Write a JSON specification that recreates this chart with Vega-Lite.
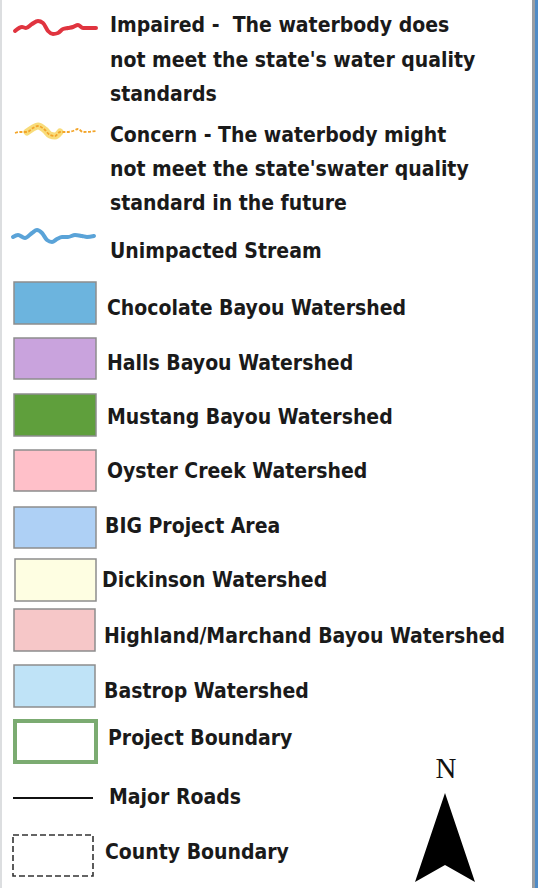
{
  "$schema": "https://vega.github.io/schema/vega-lite/v6.json",
  "width": 538,
  "height": 888,
  "padding": 0,
  "autosize": {"type": "none"},
  "background": "#ffffff",
  "config": {"view": {"stroke": null}},
  "datasets": {
    "borders": [
      {"name": "left", "x": 1, "y0": 0, "y1": 888},
      {"name": "rightgrey", "x": 533.5, "y0": 0, "y1": 888},
      {"name": "rightblue", "x": 536.5, "y0": 0, "y1": 888}
    ],
    "waves": [
      {"series": "Impaired", "x": 15, "y": 31}, {"series": "Impaired", "x": 22, "y": 27}, {"series": "Impaired", "x": 26, "y": 28},
      {"series": "Impaired", "x": 32, "y": 24}, {"series": "Impaired", "x": 38, "y": 21}, {"series": "Impaired", "x": 43, "y": 23},
      {"series": "Impaired", "x": 48, "y": 31}, {"series": "Impaired", "x": 53, "y": 34}, {"series": "Impaired", "x": 58, "y": 33},
      {"series": "Impaired", "x": 63, "y": 29}, {"series": "Impaired", "x": 68, "y": 28}, {"series": "Impaired", "x": 73, "y": 27},
      {"series": "Impaired", "x": 78, "y": 25}, {"series": "Impaired", "x": 83, "y": 28}, {"series": "Impaired", "x": 88, "y": 28},
      {"series": "Impaired", "x": 96, "y": 28},
      {"series": "Concern", "x": 15, "y": 133}, {"series": "Concern", "x": 20, "y": 132}, {"series": "Concern", "x": 27, "y": 132},
      {"series": "Concern", "x": 33, "y": 128}, {"series": "Concern", "x": 38, "y": 126}, {"series": "Concern", "x": 45, "y": 130},
      {"series": "Concern", "x": 50, "y": 135}, {"series": "Concern", "x": 55, "y": 136}, {"series": "Concern", "x": 60, "y": 132},
      {"series": "Concern", "x": 67, "y": 132}, {"series": "Concern", "x": 73, "y": 131}, {"series": "Concern", "x": 78, "y": 129},
      {"series": "Concern", "x": 83, "y": 132}, {"series": "Concern", "x": 96, "y": 131},
      {"series": "ConcernThick", "x": 27, "y": 132}, {"series": "ConcernThick", "x": 33, "y": 128}, {"series": "ConcernThick", "x": 38, "y": 126},
      {"series": "ConcernThick", "x": 45, "y": 130}, {"series": "ConcernThick", "x": 50, "y": 135}, {"series": "ConcernThick", "x": 55, "y": 136},
      {"series": "ConcernThick", "x": 60, "y": 132},
      {"series": "Unimpacted", "x": 13, "y": 237}, {"series": "Unimpacted", "x": 18, "y": 235}, {"series": "Unimpacted", "x": 25, "y": 238},
      {"series": "Unimpacted", "x": 32, "y": 233}, {"series": "Unimpacted", "x": 37, "y": 230}, {"series": "Unimpacted", "x": 42, "y": 233},
      {"series": "Unimpacted", "x": 47, "y": 240}, {"series": "Unimpacted", "x": 52, "y": 242}, {"series": "Unimpacted", "x": 57, "y": 239},
      {"series": "Unimpacted", "x": 62, "y": 237}, {"series": "Unimpacted", "x": 68, "y": 237}, {"series": "Unimpacted", "x": 75, "y": 235},
      {"series": "Unimpacted", "x": 82, "y": 236}, {"series": "Unimpacted", "x": 87, "y": 237}, {"series": "Unimpacted", "x": 94, "y": 236}
    ],
    "swatches": [
      {"label": "Chocolate Bayou Watershed", "x0": 14, "x1": 96, "y0": 282, "y1": 324},
      {"label": "Halls Bayou Watershed", "x0": 14, "x1": 96, "y0": 338, "y1": 379},
      {"label": "Mustang Bayou Watershed", "x0": 14, "x1": 96, "y0": 394, "y1": 436},
      {"label": "Oyster Creek Watershed", "x0": 14, "x1": 96, "y0": 450, "y1": 491},
      {"label": "BIG Project Area", "x0": 14, "x1": 96, "y0": 507, "y1": 548},
      {"label": "Dickinson Watershed", "x0": 15, "x1": 96, "y0": 559, "y1": 601},
      {"label": "Highland/Marchand Bayou Watershed", "x0": 14, "x1": 95, "y0": 609, "y1": 651},
      {"label": "Bastrop Watershed", "x0": 14, "x1": 95, "y0": 665, "y1": 707}
    ],
    "boxes": [
      {"label": "Project Boundary", "x0": 15, "x1": 96, "y0": 721, "y1": 762},
      {"label": "County Boundary", "x0": 13, "x1": 93, "y0": 835, "y1": 876}
    ],
    "roads": [{"label": "Major Roads", "x0": 13, "x1": 93, "y": 798}],
    "labels": [
      {"text": "Impaired - \u00a0The waterbody does", "x": 110, "y": 26},
      {"text": "not meet the state's water quality", "x": 110, "y": 61},
      {"text": "standards", "x": 110, "y": 95},
      {"text": "Concern - The waterbody might", "x": 110, "y": 136},
      {"text": "not meet the state'swater quality", "x": 110, "y": 170},
      {"text": "standard in the future", "x": 110, "y": 204},
      {"text": "Unimpacted Stream", "x": 110, "y": 252},
      {"text": "Chocolate Bayou Watershed", "x": 107, "y": 309},
      {"text": "Halls Bayou Watershed", "x": 107, "y": 364},
      {"text": "Mustang Bayou Watershed", "x": 107, "y": 418},
      {"text": "Oyster Creek Watershed", "x": 107, "y": 472},
      {"text": "BIG Project Area", "x": 105, "y": 527},
      {"text": "Dickinson Watershed", "x": 102, "y": 581},
      {"text": "Highland/Marchand Bayou Watershed", "x": 104, "y": 637},
      {"text": "Bastrop Watershed", "x": 104, "y": 692},
      {"text": "Project Boundary", "x": 108, "y": 739},
      {"text": "Major Roads", "x": 109, "y": 798},
      {"text": "County Boundary", "x": 105, "y": 853}
    ],
    "north": [{"text": "N", "x": 446, "y": 769}],
    "arrow": [{"x": 445, "y": 837.5}]
  },
  "encoding": {
    "x": {"type": "quantitative", "scale": {"domain": [0, 538], "nice": false, "zero": false}, "axis": null},
    "y": {"type": "quantitative", "scale": {"domain": [888, 0], "nice": false, "zero": false}, "axis": null}
  },
  "layer": [
    {
      "data": {"name": "borders"},
      "transform": [{"filter": "datum.name === 'left'"}],
      "mark": {"type": "rule", "strokeWidth": 2, "stroke": "#dcdee0"},
      "encoding": {"x": {"field": "x", "type": "quantitative"}, "y": {"field": "y0", "type": "quantitative"}, "y2": {"field": "y1"}}
    },
    {
      "data": {"name": "borders"},
      "transform": [{"filter": "datum.name === 'rightgrey'"}],
      "mark": {"type": "rule", "strokeWidth": 3, "stroke": "#9a9ea3"},
      "encoding": {"x": {"field": "x", "type": "quantitative"}, "y": {"field": "y0", "type": "quantitative"}, "y2": {"field": "y1"}}
    },
    {
      "data": {"name": "borders"},
      "transform": [{"filter": "datum.name === 'rightblue'"}],
      "mark": {"type": "rule", "strokeWidth": 3, "stroke": "#4f8bc6"},
      "encoding": {"x": {"field": "x", "type": "quantitative"}, "y": {"field": "y0", "type": "quantitative"}, "y2": {"field": "y1"}}
    },
    {
      "data": {"name": "waves"},
      "transform": [{"filter": "datum.series === 'Impaired'"}],
      "mark": {"type": "line", "interpolate": "monotone", "strokeWidth": 4, "strokeCap": "round", "strokeJoin": "round", "stroke": "#e0343f"},
      "encoding": {"x": {"field": "x", "type": "quantitative"}, "y": {"field": "y", "type": "quantitative"}, "order": {"field": "x", "type": "quantitative"}}
    },
    {
      "data": {"name": "waves"},
      "transform": [{"filter": "datum.series === 'Unimpacted'"}],
      "mark": {"type": "line", "interpolate": "monotone", "strokeWidth": 4, "strokeCap": "round", "strokeJoin": "round", "stroke": "#5aa3d8"},
      "encoding": {"x": {"field": "x", "type": "quantitative"}, "y": {"field": "y", "type": "quantitative"}, "order": {"field": "x", "type": "quantitative"}}
    },
    {
      "data": {"name": "waves"},
      "transform": [{"filter": "datum.series === 'ConcernThick'"}],
      "mark": {"type": "line", "interpolate": "monotone", "strokeWidth": 7, "strokeCap": "round", "opacity": 0.8, "stroke": "#f6d35a"},
      "encoding": {"x": {"field": "x", "type": "quantitative"}, "y": {"field": "y", "type": "quantitative"}, "order": {"field": "x", "type": "quantitative"}}
    },
    {
      "data": {"name": "waves"},
      "transform": [{"filter": "datum.series === 'Concern'"}],
      "mark": {"type": "line", "interpolate": "monotone", "strokeWidth": 1.8, "strokeDash": [3, 1.5], "stroke": "#f3a52a"},
      "encoding": {"x": {"field": "x", "type": "quantitative"}, "y": {"field": "y", "type": "quantitative"}, "order": {"field": "x", "type": "quantitative"}}
    },
    {
      "data": {"name": "swatches"},
      "mark": {"type": "rect", "stroke": "#8d8d8d", "strokeWidth": 1.5},
      "encoding": {
        "x": {"field": "x0", "type": "quantitative"},
        "x2": {"field": "x1"},
        "y": {"field": "y0", "type": "quantitative"},
        "y2": {"field": "y1"},
        "fill": {"field": "label", "type": "nominal", "legend": null,
          "scale": {"domain": ["Chocolate Bayou Watershed", "Halls Bayou Watershed", "Mustang Bayou Watershed", "Oyster Creek Watershed", "BIG Project Area", "Dickinson Watershed", "Highland/Marchand Bayou Watershed", "Bastrop Watershed"],
                    "range": ["#6cb4de", "#c9a3dd", "#5f9f3c", "#ffc0c9", "#aed0f5", "#fefee2", "#f6c7c8", "#bfe3f7"]}}
      }
    },
    {
      "data": {"name": "boxes"},
      "transform": [{"filter": "datum.label === 'Project Boundary'"}],
      "mark": {"type": "rect", "fill": "#ffffff", "stroke": "#7bab71", "strokeWidth": 4},
      "encoding": {"x": {"field": "x0", "type": "quantitative"}, "x2": {"field": "x1"}, "y": {"field": "y0", "type": "quantitative"}, "y2": {"field": "y1"}}
    },
    {
      "data": {"name": "boxes"},
      "transform": [{"filter": "datum.label === 'County Boundary'"}],
      "mark": {"type": "rect", "fill": "#ffffff", "stroke": "#333333", "strokeWidth": 1.6, "strokeDash": [6, 3]},
      "encoding": {"x": {"field": "x0", "type": "quantitative"}, "x2": {"field": "x1"}, "y": {"field": "y0", "type": "quantitative"}, "y2": {"field": "y1"}}
    },
    {
      "data": {"name": "roads"},
      "mark": {"type": "rule", "stroke": "#111111", "strokeWidth": 2},
      "encoding": {"x": {"field": "x0", "type": "quantitative"}, "x2": {"field": "x1"}, "y": {"field": "y", "type": "quantitative"}}
    },
    {
      "data": {"name": "labels"},
      "mark": {"type": "text", "align": "left", "baseline": "middle", "font": "DejaVu Sans Condensed", "fontWeight": "bold", "fontSize": 21, "fill": "#1a1a1a"},
      "encoding": {"x": {"field": "x", "type": "quantitative"}, "y": {"field": "y", "type": "quantitative"}, "text": {"field": "text"}}
    },
    {
      "data": {"name": "north"},
      "mark": {"type": "text", "align": "center", "baseline": "middle", "font": "Liberation Serif", "fontSize": 29, "fill": "#111111"},
      "encoding": {"x": {"field": "x", "type": "quantitative"}, "y": {"field": "y", "type": "quantitative"}, "text": {"field": "text"}}
    },
    {
      "data": {"name": "arrow"},
      "mark": {"type": "point", "filled": true, "opacity": 1, "fill": "#000000", "strokeWidth": 0, "size": 7921, "shape": "M0,-1L0.674,1L0,0.618L-0.674,1Z"},
      "encoding": {"x": {"field": "x", "type": "quantitative"}, "y": {"field": "y", "type": "quantitative"}}
    }
  ]
}
